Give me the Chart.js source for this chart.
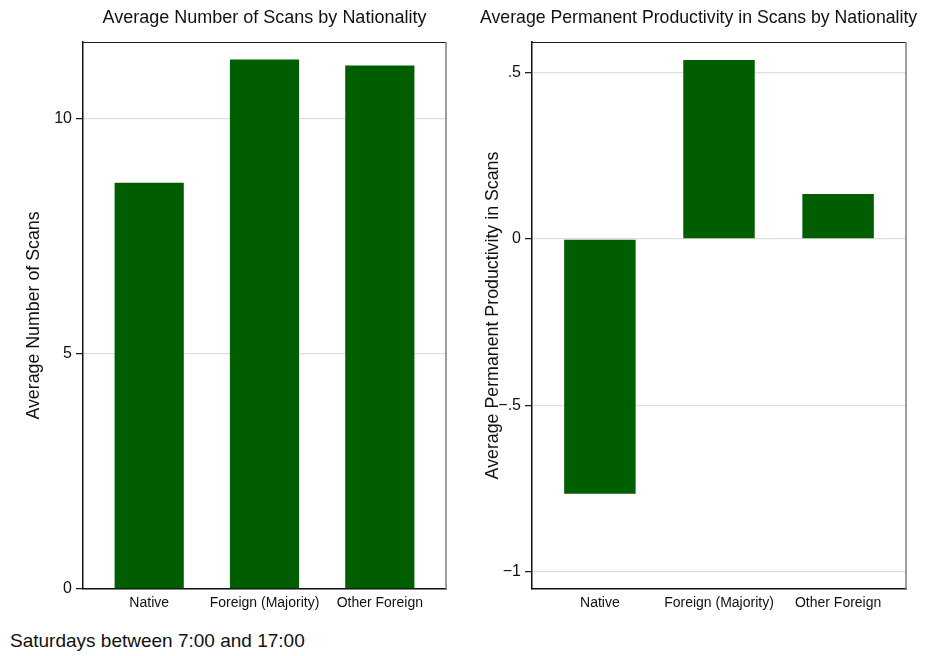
<!DOCTYPE html>
<html>
<head>
<meta charset="utf-8">
<script src="https://cdn.jsdelivr.net/npm/chart.js@4/dist/chart.umd.min.js"></script>
<style>
  html, body { margin: 0; padding: 0; background: #fff; }
  body { width: 925px; height: 656px; position: relative; overflow: hidden;
         font-family: "Liberation Sans", Arial, sans-serif; }
  canvas { position: absolute; top: 0; }
  #note { position: absolute; left: 10px; top: 631px; font-size: 19px; line-height: 19px;
          color: #111; white-space: nowrap; }
</style>
</head>
<body>
<canvas id="scans" width="462" height="620" style="left:0"></canvas>
<canvas id="prod" width="445" height="620" style="left:480px"></canvas>
<div id="note">Saturdays between 7:00 and 17:00</div>
<script>
// Categories and values
const nationalities = ['Native', 'Foreign (Majority)', 'Other Foreign'];
const avgScans = [8.64, 11.26, 11.13];
const avgPermProductivity = [-0.766, 0.538, 0.135];

// Axis ticks
const scanTicks = [0, 5, 10];
const prodTicks = [-1, -0.5, 0, 0.5];
const prodTickLabels = ['\u22121', '\u2212.5', '0', '.5'];

Chart.defaults.font.family = '"Liberation Sans", Arial, sans-serif';
Chart.defaults.color = '#111';

const INK = '#111';
const BAR = '#005e00';

// Top and right edges of the plot frame
const framePlugin = {
  id: 'frame',
  afterDraw(chart) {
    const { ctx, chartArea: a } = chart;
    ctx.save();
    ctx.strokeStyle = '#1a1a1a';
    ctx.lineWidth = 1.2;
    ctx.beginPath();
    ctx.moveTo(a.left, a.top + 0.5);
    ctx.lineTo(a.right, a.top + 0.5);
    ctx.stroke();
    ctx.strokeStyle = '#7f7f7f';
    ctx.lineWidth = 1.5;
    ctx.beginPath();
    ctx.moveTo(a.right, a.top);
    ctx.lineTo(a.right, a.bottom);
    ctx.stroke();
    ctx.restore();
  }
};

function barChart(id, o) {
  return new Chart(document.getElementById(id), {
    type: 'bar',
    data: {
      datasets: [{
        data: o.values.map((v, i) => ({ x: i + 1, y: v })),
        backgroundColor: BAR,
        borderWidth: 0,
        barPercentage: 0.6,
        categoryPercentage: 1
      }]
    },
    options: {
      responsive: false,
      animation: false,
      devicePixelRatio: 1,
      layout: { padding: 0 },
      plugins: {
        legend: { display: false },
        tooltip: { enabled: false },
        title: {
          display: true,
          text: o.title,
          fullSize: o.titleFull,
          align: o.titleAlign,
          color: INK,
          font: { size: o.titleSize, weight: 'normal' },
          padding: { top: 7.3, bottom: 42 - 7.3 - o.titleSize * 1.2 }
        }
      },
      scales: {
        x: {
          type: 'linear',
          offset: false,
          min: o.xMin,
          max: o.xMax,
          afterBuildTicks: s => { s.ticks = nationalities.map((_, i) => ({ value: i + 1 })); },
          afterFit: s => { s.height = 31; },
          ticks: {
            callback: v => nationalities[Math.round(v) - 1],
            font: { size: 14 },
            color: INK,
            padding: 5.5,
            maxRotation: 0,
            autoSkip: false
          },
          grid: { display: false, drawTicks: false },
          border: { display: true, color: INK, width: 1.5 }
        },
        y: {
          min: o.yMin,
          max: o.yMax,
          afterBuildTicks: s => { s.ticks = o.ticks.map(v => ({ value: v })); },
          afterFit: s => { s.width = o.yWidth; },
          ticks: {
            callback: o.tickLabel,
            font: { size: 16 },
            color: INK,
            padding: 4
          },
          grid: {
            color: '#dedede',
            lineWidth: 1.3,
            tickColor: INK,
            tickLength: 7,
            tickWidth: 1.2
          },
          border: { display: true, color: INK, width: 1.5 },
          title: {
            display: true,
            text: o.yTitle,
            color: INK,
            font: { size: 17.8 },
            padding: { top: o.yTitlePad, bottom: 0 }
          }
        },
        // empty margin to the right of the plot
        margin: {
          type: 'linear',
          position: 'right',
          display: true,
          afterFit: s => { s.width = o.rightMargin; },
          ticks: { display: false },
          grid: { display: false, drawTicks: false },
          border: { display: false }
        }
      }
    },
    plugins: [framePlugin]
  });
}

barChart('scans', {
  values: avgScans,
  title: 'Average Number of Scans by Nationality',
  titleFull: false,
  titleAlign: 'center',
  titleSize: 18,
  yTitle: 'Average Number of Scans',
  yTitlePad: 23.3,
  yWidth: 83,
  rightMargin: 16,
  xMin: 0.426, xMax: 3.574,
  yMin: 0, yMax: 11.63,
  ticks: scanTicks,
  tickLabel: v => String(v)
});

barChart('prod', {
  values: avgPermProductivity,
  title: 'Average Permanent Productivity in Scans by Nationality',
  titleFull: true,
  titleAlign: 'start',
  titleSize: 17.7,
  yTitle: 'Average Permanent Productivity in Scans',
  yTitlePad: 2.3,
  yWidth: 52,
  rightMargin: 19,
  xMin: 0.43, xMax: 3.57,
  yMin: -1.0526, yMax: 0.5925,
  ticks: prodTicks,
  tickLabel: v => prodTickLabels[prodTicks.indexOf(v)]
});
</script>
</body>
</html>
